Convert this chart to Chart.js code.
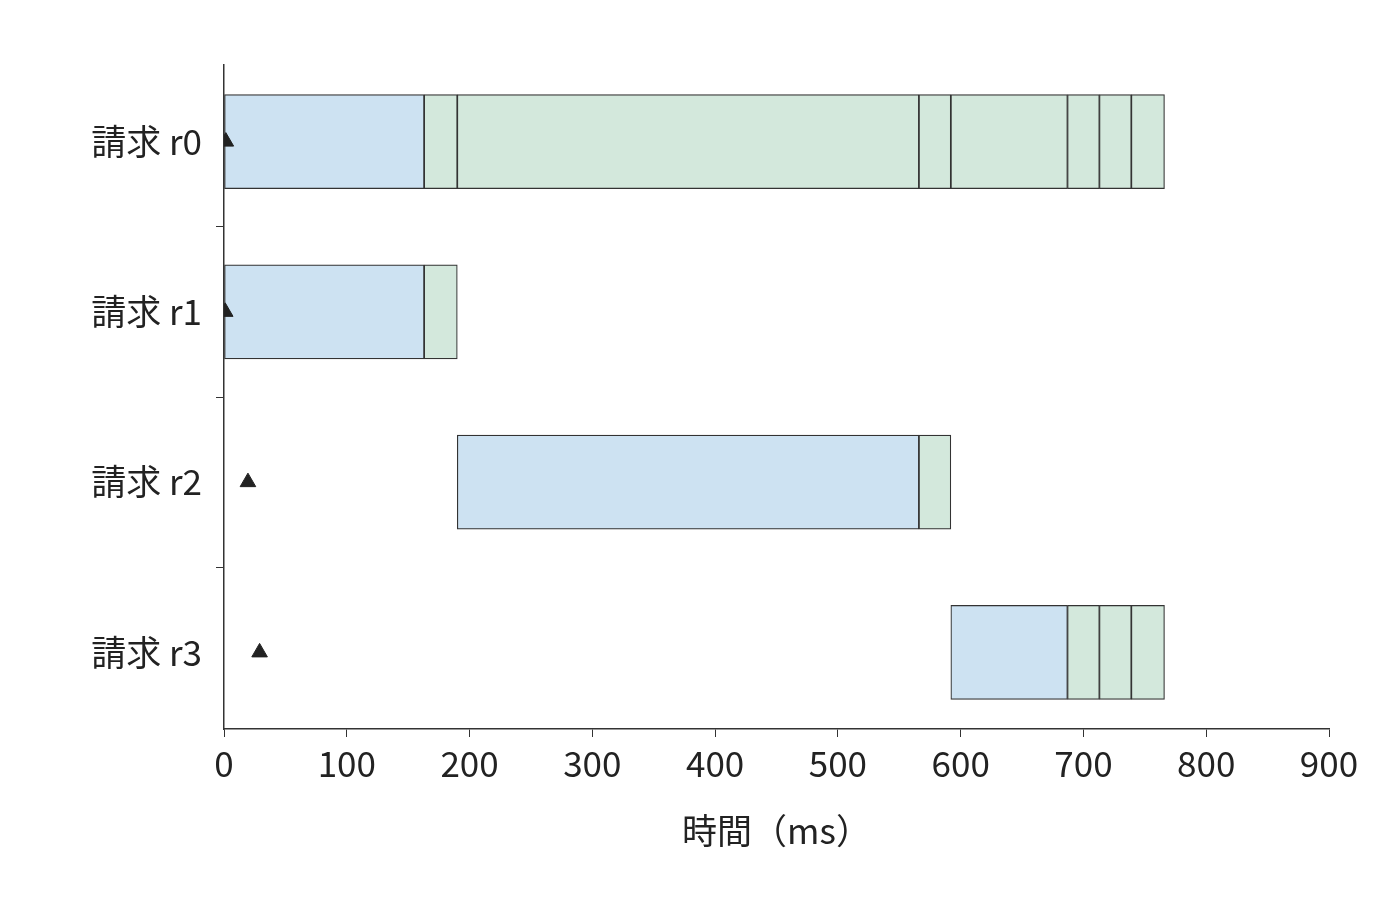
<!DOCTYPE html>
<html><head><meta charset="utf-8">
<script src="https://cdn.jsdelivr.net/npm/chart.js@4/dist/chart.umd.min.js"></script>
<style>html,body{margin:0;padding:0;background:#fff}#wrap{width:1400px;height:912px}</style>
</head><body><div id="wrap"><canvas id="c"></canvas></div>
<script>
const rows = ['請求 r0','請求 r1','請求 r2','請求 r3'];
// segments per row: [start, end, kind] kind 0=blue(wait), 1=green
const segR0 = [[0,163,0],[163,190,1],[190,566,1],[566,592,1],[592,687,1],[687,713,1],[713,739,1],[739,766,1]];
const segR1 = [[0,163,0],[163,190,1]];
const segR2 = [[190,566,0],[566,592,1]];
const segR3 = [[592,687,0],[687,713,1],[713,739,1],[739,766,1]];
const arrivals = [1.5, 1, 19.5, 29];
const xTicks = [0,100,200,300,400,500,600,700,800,900];

const FONT = "'Noto Sans CJK JP','Noto Sans',sans-serif";
const BLUE = '#cde2f2', GREEN = '#d3e8dc', EDGE = '#333333';
const allSegs = [segR0, segR1, segR2, segR3];
const datasets = [];
allSegs.forEach((segs, r) => {
  datasets.push({
    type: 'bar', order: 1,
    data: segs.map(s => ({x: [s[0], s[1]], y: r})),
    backgroundColor: segs.map(s => s[2] === 0 ? BLUE : GREEN),
    borderColor: EDGE, borderWidth: 1.2, borderSkipped: false,
    barThickness: 94, grouped: false
  });
});
datasets.push({
  type: 'line', showLine: false, order: 0,
  data: arrivals.map((a, i) => ({x: a, y: i})),
  pointStyle: 'triangle', pointRadius: 9, pointBackgroundColor: '#222', pointBorderColor: '#222'
});

new Chart(document.getElementById('c'), {
  type: 'bar',
  data: {datasets},
  options: {
    indexAxis: 'y', responsive: true, maintainAspectRatio: false, animation: false,
    layout: {padding: {top: 65, right: 71, bottom: 60, left: 0}},
    plugins: {legend: {display: false}, tooltip: {enabled: false}},
    scales: {
      x: {
        type: 'linear', min: 0, max: 900,
        afterBuildTicks: s => { s.ticks = xTicks.map(v => ({value: v})); },
        afterFit: s => { s.height = 123; },
        grid: {display: true, drawOnChartArea: false, drawTicks: true, tickLength: 8, tickColor: '#333', color: 'rgba(0,0,0,0)'},
        border: {color: '#333', width: 1.5},
        ticks: {color: '#222', font: {family: FONT, size: 35}, padding: 6},
        title: {display: true, text: '時間（ms）', color: '#222', font: {family: FONT, size: 35}, padding: {top: 0, bottom: 0}}
      },
      y: {
        type: 'linear', offset: false, min: -0.45, max: 3.45, reverse: true,
        afterBuildTicks: s => { s.ticks = rows.map((_, i) => ({value: i})); },
        afterFit: s => { s.width = 224; },
        grid: {display: true, drawOnChartArea: false, drawTicks: true, tickLength: 8, tickColor: '#333', color: 'rgba(0,0,0,0)'},
        border: {color: '#333', width: 1.5},
        ticks: {color: '#222', font: {family: FONT, size: 35}, padding: 14, callback: v => rows[v]}
      }
    }
  }
});
</script></body></html>
